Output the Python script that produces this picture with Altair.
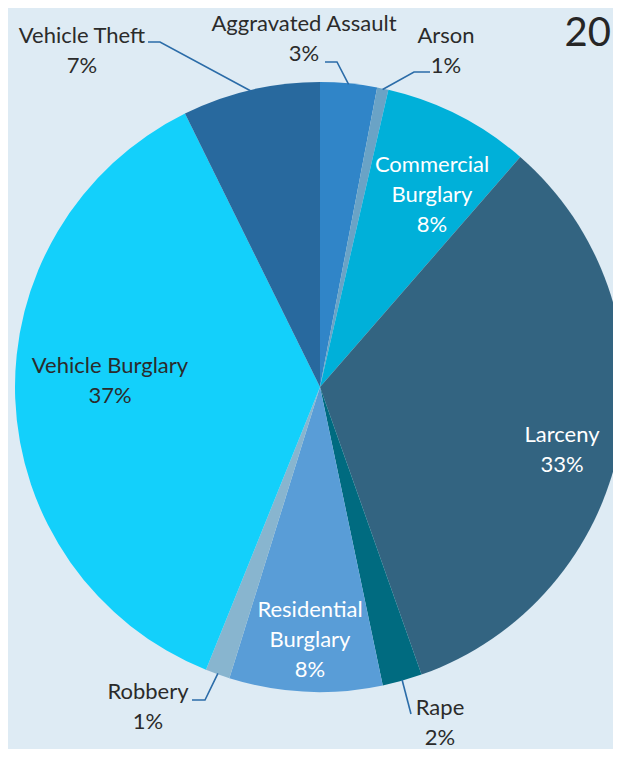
import math
import altair as alt
import pandas as pd

# ---- data ----
categories = ["Aggravated Assault", "Arson", "Commercial Burglary", "Larceny", "Rape",
              "Residential Burglary", "Robbery", "Vehicle Burglary", "Vehicle Theft"]
shares = [3.0, 0.6, 7.8, 33.2, 2.1, 8.1, 1.3, 36.6, 7.3]
pct_labels = ["3%", "1%", "8%", "33%", "2%", "8%", "1%", "37%", "7%"]
label_names = ["Aggravated Assault", "Arson", "Commercial\nBurglary", "Larceny", "Rape",
               "Residential\nBurglary", "Robbery", "Vehicle Burglary", "Vehicle Theft"]
colors = ["#3085c8", "#6aa3c6", "#00b0d9", "#336481", "#006b80",
          "#599dd7", "#88b5cf", "#13d0fb", "#28699e"]
title_text = "20"

# ---- layout (styles / positions, not data) ----
W, H = 605, 741
CX, CY, R = 312, 379, 305
BG = "#deebf4"
FONT = "Lato"
LH = 30
white_text = {"Commercial Burglary", "Larceny", "Residential Burglary"}
# label block centres relative to the pie centre
label_off = {
    "Aggravated Assault": (-16, -348),
    "Arson": (126, -336),
    "Commercial Burglary": (112, -192),
    "Larceny": (242, 63),
    "Rape": (120, 336),
    "Residential Burglary": (-10, 253),
    "Robbery": (-172, 320),
    "Vehicle Burglary": (-210, -6),
    "Vehicle Theft": (-238, -336),
}
# leader line start + elbow relative to pie centre
leader = {
    "Vehicle Theft": [(-172, -345), (-160, -345)],
    "Aggravated Assault": [(5, -325), (17, -325)],
    "Arson": [(110, -315), (94, -315)],
    "Robbery": [(-128, 313), (-115, 313)],
    "Rape": [(91, 327)],
}

df = pd.DataFrame({"category": categories, "share": shares, "order": range(len(categories))})

pie = alt.Chart(df).mark_arc(radius=R, stroke=None).encode(
    theta=alt.Theta("share:Q", stack=True),
    color=alt.Color("category:N", scale=alt.Scale(domain=categories, range=colors), legend=None),
    order=alt.Order("order:Q"),
    x=alt.value(CX),
    y=alt.value(CY),
)

# mid angles of slices (from the data)
total = sum(shares)
mids = {}
acc = 0.0
for c, s in zip(categories, shares):
    mids[c] = (acc + s / 2) / total * 2 * math.pi
    acc += s

rows = []
for c, name, p in zip(categories, label_names, pct_labels):
    dx, dy = label_off[c]
    txt = name + "\n" + p
    n = txt.count("\n") + 1
    rows.append({"category": c, "text": txt, "x": CX + dx, "y": CY + dy - (n - 1) / 2 * LH,
                 "col": "#ffffff" if c in white_text else "#2b2b2b"})
lab = pd.DataFrame(rows)

texts = alt.Chart(lab).mark_text(font=FONT, fontSize=22, lineBreak="\n", lineHeight=LH,
                                  baseline="middle", align="center").encode(
    x=alt.X("x:Q", scale=None),
    y=alt.Y("y:Q", scale=None),
    text="text:N",
    color=alt.Color("col:N", scale=None),
)

lrows = []
for c, pts in leader.items():
    a = mids[c]
    edge = (CX + (R - 1) * math.sin(a), CY - (R - 1) * math.cos(a))
    seq = [(CX + px, CY + py) for px, py in pts] + [edge]
    for i, (px, py) in enumerate(seq):
        lrows.append({"category": c, "i": i, "x": px, "y": py})
ldf = pd.DataFrame(lrows)

lines = alt.Chart(ldf).mark_line(color="#2b6ca8", strokeWidth=1.6).encode(
    x=alt.X("x:Q", scale=None),
    y=alt.Y("y:Q", scale=None),
    detail="category:N",
    order="i:Q",
)

title = alt.Chart(pd.DataFrame({"t": [title_text]})).mark_text(
    font=FONT, fontSize=40, align="right", baseline="alphabetic", color="#262626"
).encode(x=alt.value(603), y=alt.value(38), text="t:N")

chart = alt.layer(pie, lines, texts, title).properties(
    width=W, height=H, autosize=alt.AutoSizeParams(type="none"), padding=0,
    background=BG,
).configure_view(stroke=None)

chart.save("out.html", embed_options={"renderer": "svg", "actions": False})
